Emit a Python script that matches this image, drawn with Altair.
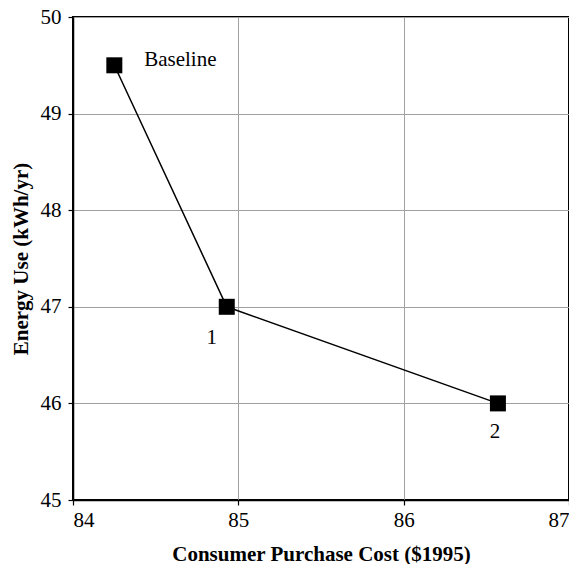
import altair as alt
import pandas as pd

cost = [84.25, 84.93, 86.57]
energy = [49.5, 47.0, 46.0]
labels = ["Baseline", "1", "2"]
label_dx = [66, -15, -3]
label_dy = [-5, 31, 29]

df = pd.DataFrame({"cost": cost, "energy": energy, "label": labels})

FONT = "Times New Roman, Liberation Serif, serif"
FS = 21

axis_common = dict(
    grid=True, gridColor="#a0a0a0", gridWidth=1,
    domainColor="black", domainWidth=1.5,
    tickColor="black", tickSize=5, tickWidth=1.2,
    labelFont=FONT, labelFontSize=FS, labelColor="black",
    titleFont=FONT, titleFontSize=FS, titleFontWeight="bold", titleColor="black",
)

x = alt.X("cost:Q", scale=alt.Scale(domain=[84, 87], nice=False, zero=False),
          axis=alt.Axis(values=[84, 85, 86, 87], title="Consumer Purchase Cost ($1995)",
                        labelPadding=4, titlePadding=13, **axis_common))
y = alt.Y("energy:Q", scale=alt.Scale(domain=[45, 50], nice=False, zero=False),
          axis=alt.Axis(values=[45, 46, 47, 48, 49, 50], title="Energy Use (kWh/yr)",
                        labelPadding=7, titlePadding=9, **axis_common))

base = alt.Chart(df).encode(x=x, y=y)
line = base.mark_line(color="black", strokeWidth=1.5)
pts = base.mark_point(shape="square", filled=True, color="black", size=256, opacity=1)

texts = []
for i in range(len(labels)):
    texts.append(
        alt.Chart(df.iloc[[i]]).mark_text(font=FONT, fontSize=FS, color="black",
                                          dx=label_dx[i], dy=label_dy[i])
        .encode(x=x, y=y, text="label:N")
    )

chart = alt.layer(line, pts, *texts).properties(
    width=496, height=483,
    autosize=alt.AutoSizeParams(type="none"),
    padding={"left": 65, "top": 9, "right": 0, "bottom": 64},
).configure_view(
    stroke="black", strokeWidth=2
).configure_axis(
    labelFont=FONT, titleFont=FONT
)

chart.save("out.html", embed_options={"renderer": "svg", "actions": False})
